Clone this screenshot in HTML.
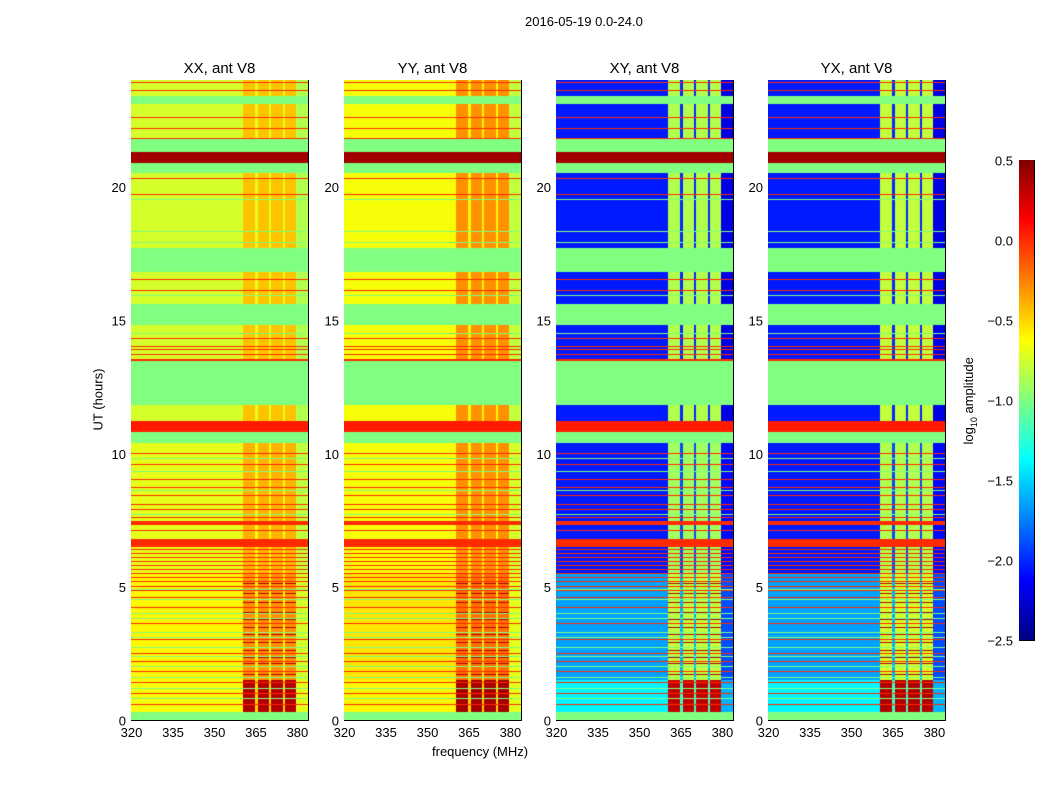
<!DOCTYPE html>
<html><head><meta charset="utf-8">
<style>
body{margin:0;background:#fff;width:1050px;height:800px;overflow:hidden;font-family:"Liberation Sans",sans-serif;}
#root{position:relative;width:1050px;height:800px;}
.t{position:absolute;font-size:13px;color:#000;white-space:nowrap;}
canvas{position:absolute;}
</style></head>
<body>
<div id="root">
<div class="t" style="left:525px;top:14px;">2016-05-19 0.0-24.0</div>
<div class="t" style="left:432px;top:744px;">frequency (MHz)</div>
<div class="t" style="left:58px;top:392px;transform:rotate(-90deg);transform-origin:center;width:80px;text-align:center;">UT (hours)</div>
<div class="t" style="left:920px;top:392px;transform:rotate(-90deg);transform-origin:center;width:100px;text-align:center;">log<sub style="font-size:9px">10</sub> amplitude</div>
<svg id="ov" width="1050" height="800" style="position:absolute;left:0;top:0;pointer-events:none"></svg>
</div>
<script>
const panelNames=["XX, ant V8","YY, ant V8","XY, ant V8","YX, ant V8"];
const panelLeft=[131,344,556,768];
const xTicks=[320,335,350,365,380];
const yTicks=[0,5,10,15,20];
const cbTicks=[0.5,0.0,-0.5,-1.0,-1.5,-2.0,-2.5];
const cbLabels=["0.5","0.0","\u22120.5","\u22121.0","\u22121.5","\u22122.0","\u22122.5"];
const bandEdges=[320,360.5,365,365.8,370,370.8,375,375.8,379.6,384];
const bandKinds=["low","high","gap","high","gap","high","gap","high","tail"];
const flagSegs=[[0,0.3],[10.4,10.8],[11.8,13.45],[14.8,15.6],[16.8,17.7],[20.5,20.9],[21.3,21.8],[23.1,23.4]];
const hotSegs=[[10.8,11.2,0.05],[20.9,21.3,0.4],[6.5,6.8,0.0],[7.3,7.45,0.0],[13.45,13.55,0.0]];
const hotLines=[23.9,23.6,22.6,22.2,21.8,20.3,19.7,17.55,16.5,16.1,14.3,14.0,13.9,13.7,10.0,9.6,9.0,8.7,8.4,8.1,7.9,7.6,7.1,6.4,6.25,6.1,5.95,5.8,5.65,5.5,5.35,5.2,5.0,4.85,4.6,4.2,3.6,3.0,2.5,2.2,1.8,1.4,1.0,0.6];
const highHotLines=[0.45,0.7,0.95,1.15,1.3,1.7,2.1,2.35,2.6,2.9,3.2,3.45,3.75,4.05,4.4,4.75,5.1];
const greenLines=[0.8,1.2,1.6,2.0,2.4,2.7,3.1,3.3,3.8,4.0,4.5,4.9,7.7,8.6,9.3,9.8,14.5,15.9,17.9,18.3,19.5,23.3];
const erasXX=[[0,1.5,-0.65,0.35,-0.5,-0.7],[1.5,5.5,-0.6,-0.3,-0.6,-0.75],[5.5,11,-0.7,-0.4,-0.65,-0.8],[11,24,-0.75,-0.45,-0.7,-0.85]];
const erasYY=[[0,1.5,-0.6,0.4,-0.5,-0.7],[1.5,5.5,-0.55,-0.2,-0.55,-0.7],[5.5,11,-0.65,-0.3,-0.6,-0.75],[11,24,-0.65,-0.3,-0.6,-0.8]];
const erasXY=[[0,1.5,-1.4,0.3,-1.2,-1.6],[1.5,5.5,-1.65,-0.8,-1.6,-1.9],[5.5,11,-2.05,-0.9,-1.9,-2.1],[11,24,-2.05,-0.85,-2.0,-2.2]];
const erasYX=[[0,1.5,-1.4,0.35,-1.2,-1.6],[1.5,5.5,-1.65,-0.75,-1.6,-1.9],[5.5,11,-2.05,-0.85,-1.9,-2.1],[11,24,-2.05,-0.8,-2.0,-2.2]];
const panelEras=[erasXX,erasYY,erasXY,erasYX];

const PW=177,PT=80,PH=640,FMIN=320,FMAX=384,VMIN=-2.5,VMAX=0.5;
const xs=f=>(f-FMIN)/(FMAX-FMIN)*PW;
const ys=h=>PH-h/24*PH;
function jet(v){let x=(v-VMIN)/(VMAX-VMIN);x=Math.max(0,Math.min(1,x));
 const c=a=>Math.round(255*Math.max(0,Math.min(1,1.5-Math.abs(4*x-a))));
 return `rgb(${c(3)},${c(2)},${c(1)})`;}
const root=document.getElementById('root');
const ov=document.getElementById('ov');
const NS="http://www.w3.org/2000/svg";
function svgEl(tag,attrs,txt){const e=document.createElementNS(NS,tag);for(const k in attrs)e.setAttribute(k,attrs[k]);if(txt!==undefined)e.textContent=txt;ov.appendChild(e);return e;}
const inRow=(arr,h0,h1)=>arr.some(l=>l>=h0&&l<h1);
panelNames.forEach((nm,p)=>{
 const L=panelLeft[p];
 const cv=document.createElement('canvas');cv.width=PW;cv.height=PH;
 cv.style.left=L+'px';cv.style.top=PT+'px';
 
 
 root.appendChild(cv);
 const ctx=cv.getContext('2d');
 const eras=panelEras[p];
 for(let r=0;r<PH;r++){
  const h0=(PH-r-1)/PH*24,h1=(PH-r)/PH*24,hm=(h0+h1)/2;
  let fixed=null;
  flagSegs.forEach(s=>{if(hm>=s[0]&&hm<s[1])fixed=-1.0;});
  hotSegs.forEach(s=>{if(hm>=s[0]&&hm<s[1])fixed=s[2];});
  if(fixed===null&&inRow(hotLines,h0,h1))fixed=0.0;
  if(fixed===null&&inRow(greenLines,h0,h1))fixed=-1.0;
  if(fixed!==null){ctx.fillStyle=jet(fixed);ctx.fillRect(0,r,PW,1);continue;}
  const e=eras.find(e=>hm>=e[0]&&hm<e[1])||eras[eras.length-1];
  const hh=inRow(highHotLines,h0,h1);
  for(let b=0;b<bandKinds.length;b++){
   const k=bandKinds[b];
   let v=k==="low"?e[2]:k==="high"?e[3]:k==="gap"?e[4]:e[5];
   if(hh&&k==="high")v=0.35;
   ctx.fillStyle=jet(v);
   const x0=Math.round(xs(bandEdges[b])),x1=Math.round(xs(bandEdges[b+1]));
   ctx.fillRect(x0,r,Math.max(1,x1-x0),1);
  }
 }
 svgEl('rect',{x:L+0.5,y:PT+0.5,width:PW,height:PH,fill:'none',stroke:'#000','stroke-width':1,});
 svgEl('text',{x:L+PW/2,y:73,'text-anchor':'middle','font-size':15,'font-family':'Liberation Sans',},nm);
 xTicks.forEach(t=>{const x=L+xs(t)+0.5;
  svgEl('line',{x1:x,x2:x,y1:PT+PH,y2:PT+PH-5,stroke:'#000'});
  svgEl('line',{x1:x,x2:x,y1:PT,y2:PT+5,stroke:'#000'});
  svgEl('text',{x:x,y:PT+PH+17,'text-anchor':'middle','font-size':13,'font-family':'Liberation Sans',},t);});
 yTicks.forEach(t=>{const y=PT+ys(t)+0.5;
  svgEl('line',{x1:L,x2:L+5,y1:y,y2:y,stroke:'#000'});
  svgEl('line',{x1:L+PW,x2:L+PW-5,y1:y,y2:y,stroke:'#000'});
  svgEl('text',{x:L-5,y:y+5,'text-anchor':'end','font-size':13,'font-family':'Liberation Sans',},t);});
});
const CBL=1019,CBT=160,CBW=15,CBH=480;
const cb=document.createElement('canvas');cb.width=CBW;cb.height=CBH;
cb.style.left=CBL+'px';cb.style.top=CBT+'px';


root.appendChild(cb);
const cctx=cb.getContext('2d');
for(let r=0;r<CBH;r++){cctx.fillStyle=jet(VMAX-(r+0.5)/CBH*(VMAX-VMIN));cctx.fillRect(0,r,CBW,1);}
svgEl('rect',{x:CBL+0.5,y:CBT+0.5,width:CBW,height:CBH,fill:'none',stroke:'#000'});
cbTicks.forEach((t,i)=>{const y=CBT+(VMAX-t)/(VMAX-VMIN)*CBH+0.5;
 svgEl('line',{x1:CBL,x2:CBL+5,y1:y,y2:y,stroke:'#000'});
 svgEl('line',{x1:CBL+CBW-5,x2:CBL+CBW,y1:y,y2:y,stroke:'#000'});
 svgEl('text',{x:CBL-6,y:y+5,'text-anchor':'end','font-size':13,'font-family':'Liberation Sans',},cbLabels[i]);});
</script>
</body></html>
